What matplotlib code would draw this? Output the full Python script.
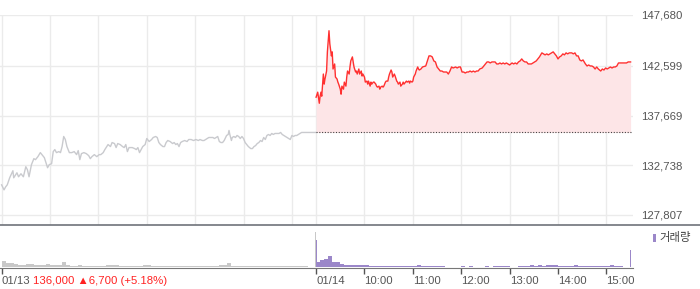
import matplotlib.pyplot as plt
from matplotlib.lines import Line2D
from matplotlib.patches import Rectangle

plt.rcParams['font.family'] = ['Liberation Sans', 'Noto Sans CJK KR']

# 01/13 session, minutes after 09:00
prev_t = [0, 3, 5, 7, 10, 14, 15, 19, 21, 24,
          27, 30, 32, 34, 37, 40, 42, 45, 48, 50,
          53, 55, 57, 59, 62, 64, 66, 68, 71, 73,
          75, 77, 79, 81, 84, 87, 90, 93, 95, 97,
          99, 102, 105, 108, 110, 112, 115, 118, 121, 123,
          126, 128, 132, 135, 137, 140, 142, 144, 147, 150,
          152, 154, 156, 158, 162, 165, 167, 169, 171, 173,
          175, 178, 180, 183, 186, 188, 191, 193, 195, 197,
          200, 202, 204, 206, 209, 212, 214, 216, 218, 220,
          222, 224, 227, 230, 232, 235, 238, 241, 244, 246,
          249, 251, 253, 255, 257, 259, 262, 264, 266, 268,
          270, 272, 274, 276, 279, 281, 282, 283, 285, 286,
          288, 290, 292, 294, 296, 298, 300, 302, 304, 306,
          309, 311, 313, 315, 317, 319, 321, 323, 325, 327,
          329, 331, 333, 335, 337, 339, 342, 344, 346, 348,
          350, 352, 354, 356, 358, 360, 362, 364, 366, 368,
          370, 372, 374, 376, 379, 381, 383, 385, 387, 389,
          390]
prev_price = [130800, 130300, 130600, 130800, 131500, 132200, 131500, 132000, 131600, 131900,
              131600, 132600, 132300, 131600, 132800, 133400, 133300, 133600, 134000, 133800,
              133500, 133000, 132500, 132800, 132900, 134100, 134300, 134000, 134100, 134000,
              134600, 135600, 135300, 134600, 134000, 134000, 134100, 133800, 134200, 133300,
              133900, 134000, 133900, 133700, 133400, 133600, 133800, 133600, 133800, 133800,
              134000, 134300, 134800, 134600, 135000, 134900, 134500, 134900, 134800, 134600,
              134500, 134800, 134100, 134500, 134500, 134400, 134300, 134500, 134000, 134300,
              134600, 134800, 135400, 135100, 135300, 135500, 135600, 135500, 135000, 134800,
              134600, 134600, 135000, 135200, 135100, 134900, 135000, 134800, 134900, 134600,
              135000, 135100, 135200, 135100, 135300, 135300, 135200, 135300, 135200, 135300,
              135200, 135200, 135300, 135400, 135500, 135500, 135500, 135400, 135500, 135600,
              135100, 135000, 135000, 135200, 135700, 135800, 136200, 135800, 135200, 135500,
              135600, 135500, 135700, 135600, 135400, 135600, 135400, 135000, 134800, 134600,
              134400, 134400, 134600, 134700, 134900, 135000, 135200, 135100, 135500, 135300,
              135700, 135800, 135700, 135900, 135800, 135900, 135900, 135900, 136000, 135800,
              135700, 135600, 135500, 135400, 135300, 135700, 135600, 135700, 135700, 135800,
              135900, 136000, 136000, 136000, 136000, 136000, 136000, 136000, 136000, 136000,
              136000]

# 01/14 session, minutes after 09:00
today_t = [0, 2, 4, 5, 6, 7, 9, 10, 11, 13,
           14, 16, 17, 19, 20, 21, 23, 24, 26, 27,
           28, 30, 31, 32, 34, 35, 37, 38, 39, 41,
           42, 43, 45, 46, 47, 49, 50, 51, 53, 54,
           56, 57, 58, 60, 61, 63, 64, 65, 67, 68,
           69, 71, 72, 74, 75, 76, 78, 79, 80, 82,
           83, 84, 86, 87, 89, 90, 91, 93, 94, 95,
           97, 98, 100, 101, 102, 104, 105, 107, 108, 109,
           111, 112, 113, 115, 116, 117, 119, 120, 121, 123,
           124, 126, 127, 128, 130, 132, 136, 138, 140, 142,
           144, 146, 148, 150, 152, 154, 156, 158, 160, 162,
           164, 166, 168, 170, 173, 175, 177, 179, 181, 183,
           185, 187, 189, 191, 193, 195, 197, 199, 201, 203,
           206, 208, 210, 212, 214, 216, 218, 220, 222, 224,
           226, 228, 230, 232, 234, 236, 238, 240, 243, 245,
           247, 249, 251, 253, 255, 257, 259, 261, 263, 265,
           267, 269, 271, 273, 275, 277, 280, 282, 284, 286,
           288, 290, 292, 294, 296, 298, 300, 302, 304, 306,
           308, 310, 312, 314, 317, 319, 321, 323, 325, 327,
           329, 331, 334, 336, 338, 340, 342, 344, 346, 348,
           350, 353, 355, 357, 359, 361, 363, 365, 367, 369,
           371, 373, 375, 377, 379, 381, 383, 385, 387, 390]
today_price = [139500, 140000, 138900, 139600, 140000, 139600, 141800, 140800, 141300, 142100,
               144000, 146100, 144800, 143600, 144000, 142300, 142800, 141500, 141300, 141000,
               140800, 140300, 139800, 140600, 140300, 141000, 140600, 141500, 142100, 141800,
               142500, 143100, 143500, 143000, 142500, 142000, 142100, 141800, 142300, 141800,
               142100, 141600, 141800, 141500, 141000, 141100, 140800, 141100, 140600, 141000,
               140800, 141000, 141000, 140800, 140600, 140500, 140600, 140300, 140500, 140600,
               140500, 140600, 141000, 141100, 141100, 141500, 141800, 142200, 142000, 141500,
               141800, 141600, 141100, 141000, 140800, 141000, 140600, 140800, 141000, 140800,
               141000, 141100, 141000, 141100, 140900, 141100, 141000, 141100, 141500, 141800,
               142100, 142500, 142300, 142200, 142300, 142500, 142600, 143100, 143600, 143600,
               143500, 143100, 143000, 142500, 142300, 142100, 142100, 142000, 142000, 142000,
               141800, 142100, 142500, 142400, 142500, 142400, 142500, 142500, 142000, 142000,
               141900, 142000, 142000, 142100, 142000, 142100, 142000, 142100, 142100, 142300,
               142400, 142600, 142800, 143000, 143000, 142900, 143000, 143000, 143000, 142800,
               142800, 142900, 142800, 142900, 142800, 142900, 142800, 142700, 142900, 142800,
               142900, 142800, 143000, 143100, 143300, 143100, 143000, 143000, 142800, 142800,
               142800, 142900, 143000, 143100, 143300, 143500, 143900, 143800, 143700, 143800,
               143700, 143800, 143900, 144000, 143800, 143600, 143300, 143500, 143600, 143800,
               143700, 143900, 143800, 143900, 143900, 143800, 143900, 143600, 143600, 143200,
               143100, 143200, 142800, 142600, 142700, 142600, 142600, 142500, 142300, 142500,
               142300, 142100, 142300, 142200, 142400, 142300, 142400, 142500, 142400, 142500,
               142500, 142600, 142900, 142900, 142900, 142900, 142900, 142900, 143000, 143000]
prev_close = 136000

y_ticks = [127807, 132738, 137669, 142599, 147680]
tick_t = [0, 390, 450, 510, 570, 630, 690, 750]
tick_labels = ['01/13', '01/14', '10:00', '11:00', '12:00', '13:00', '14:00', '15:00']
grid_t = [0, 60, 120, 180, 240, 300, 360, 390, 450, 510, 570, 630, 690, 750]

# volume, 5-minute bins (thousand shares)
prev_vol = [6, 4.5, 4.5, 3.5, 2.7, 2.7, 3.5, 3, 2.7, 2.5,
            2.5, 3.5, 2.3, 2.3, 2.3, 5, 2.7, 1.7, 1.7, 2.3,
            1.3, 1, 1, 1, 1.3, 1.7, 2, 2, 2, 1.5,
            1, 1, 1, 1, 1.3, 2.5, 2, 1.7, 1.5, 1.3,
            1, 1, 1.3, 1.3, 1.3, 1, 1, 1.3, 1.5, 1,
            1, 1.3, 1, 1.3, 2, 2, 4, 1.3, 1, 1,
            1.3, 1.5, 1, 1, 1, 1.3, 1.3, 1, 1, 1,
            1, 1, 1.3, 1.3, 1.5, 1, 0.3, 0.3]
today_vol = [5, 7, 8, 11, 5, 5, 3, 2.7, 2.7, 2.3,
             2, 2, 2, 1.7, 1, 1, 1.3, 1.3, 1.3, 1.3,
             1.3, 1, 1, 1, 1.5, 2.7, 1.7, 1.7, 1.7, 1.7,
             1.3, 1, 0.7, 0.7, 0.7, 0.7, 1, 0.7, 1, 0.7,
             0.7, 0.7, 1, 0.7, 1, 1, 1, 1.5, 0.5, 0.5,
             1, 1.7, 1.7, 2, 1.7, 2, 1.7, 2.3, 2, 2.3,
             1.7, 1.3, 1.7, 1.7, 2, 1.7, 1.7, 1.7, 1.7, 1.7,
             1.7, 1.7, 1.7, 2, 1.7, 1, 0, 0]
# single-minute auction bars
prev_spike_t = [0, 389]
prev_spike_vol = [11, 36]
today_spike_t = [0, 389]
today_spike_vol = [28, 18]

W, H = 700, 289
fig = plt.figure(figsize=(W / 100, H / 100), dpi=100)


def box(x0, y0, x1, y1):
    return [x0 / W, 1 - y1 / H, (x1 - x0) / W, (y1 - y0) / H]


ax = fig.add_axes(box(0, 14.6, 633, 225))
axv = fig.add_axes(box(0, 225, 633, 268))

session = 390
today_x = [session + t for t in today_t]

for g in grid_t:
    ax.axvline(g, color='#ebebeb', lw=1, zorder=0)
for g in y_ticks:
    ax.axhline(g, color='#ebebeb', lw=1, zorder=0)

ax.plot(prev_t, prev_price, color='#c9cace', lw=1)
ax.fill_between(today_x, today_price, prev_close, color='#fde5e7', lw=0)
ax.plot(today_x, today_price, color='#ff3030', lw=1)
ax.hlines(prev_close, session, session + 390, colors='#444444',
          linestyles=(0, (1, 1.5)), lw=0.8)

ax.set_xlim(-2, 783)
ax.set_ylim(126814, 147700)
ax.set_xticks([])
ax.yaxis.tick_right()
ax.set_yticks(y_ticks, ['{:,}'.format(v) for v in y_ticks])
ax.tick_params(axis='y', length=0, pad=6, labelsize=8.2, labelcolor='#555555')
for s in ax.spines.values():
    s.set_visible(False)

# volume panel
axv.bar([5 * i + 2.5 for i in range(len(prev_vol))], prev_vol, width=5,
        color='#c8c8c8', lw=0)
axv.bar([session + 5 * i + 2.5 for i in range(len(today_vol))], today_vol, width=5,
        color='#9b87c9', lw=0)
axv.bar([t + 0.5 for t in prev_spike_t], prev_spike_vol, width=0.9, color='#c8c8c8', lw=0)
axv.bar([session + t + 0.5 for t in today_spike_t], today_spike_vol, width=0.9,
        color='#9b87c9', lw=0)
axv.set_xlim(-2, 783)
axv.set_ylim(-0.8, 43)
axv.set_yticks([])
axv.set_xticks(tick_t, tick_labels)
plt.setp(axv.get_xticklabels(), ha='left')
axv.tick_params(axis='x', length=4, width=1, color='#555555', pad=2,
                labelsize=8.2, labelcolor='#555555')
for name, s in axv.spines.items():
    s.set_visible(name == 'bottom')
axv.spines['bottom'].set_color('#777777')

fig.add_artist(Line2D([0, 1], [1 - 225 / H] * 2, color='#6f737a', lw=1.2))

fig.text(33 / W, 1 - 281 / H, '136,000 ▲6,700 (+5.18%)', color='#f22',
         fontsize=8.2, va='center', family=['Liberation Sans', 'DejaVu Sans'])

# legend
fig.add_artist(Rectangle((653 / W, 1 - 242 / H), 3 / W, 8 / H,
                         transform=fig.transFigure, color='#9b87c9', lw=0))
fig.text(659 / W, 1 - 238 / H, '거래량', color='#444444', fontsize=8.2, va='center')

fig.savefig('out.png', dpi=100)
